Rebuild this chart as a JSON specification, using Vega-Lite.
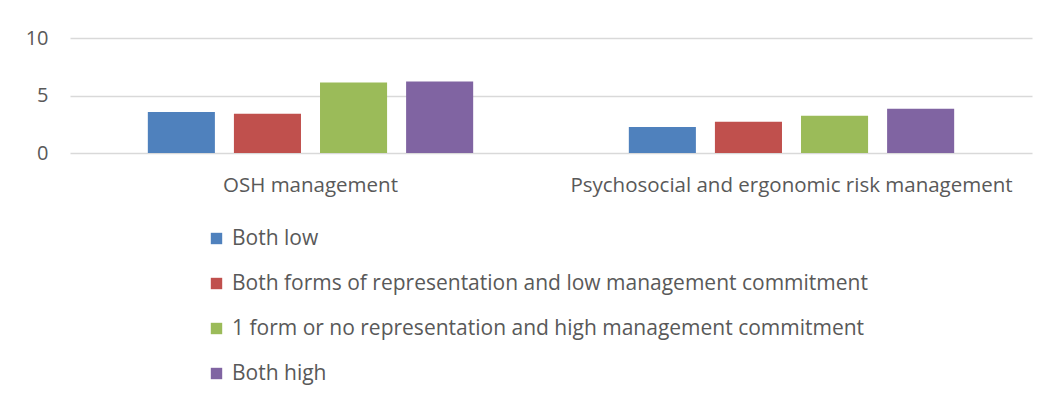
{
  "$schema": "https://vega.github.io/schema/vega-lite/v6.json",
  "width": 962,
  "height": 115,
  "autosize": "none",
  "padding": {"left": 70, "top": 38, "right": 20, "bottom": 250},
  "background": "white",
  "data": {
    "values": [
      {"category": "OSH management", "group": "Both low", "value": 3.56},
      {"category": "OSH management", "group": "Both forms of representation and low management commitment", "value": 3.41},
      {"category": "OSH management", "group": "1 form or no representation and high management commitment", "value": 6.12},
      {"category": "OSH management", "group": "Both high", "value": 6.21},
      {"category": "Psychosocial and ergonomic risk management", "group": "Both low", "value": 2.27},
      {"category": "Psychosocial and ergonomic risk management", "group": "Both forms of representation and low management commitment", "value": 2.71},
      {"category": "Psychosocial and ergonomic risk management", "group": "1 form or no representation and high management commitment", "value": 3.23},
      {"category": "Psychosocial and ergonomic risk management", "group": "Both high", "value": 3.85}
    ]
  },
  "mark": {"type": "bar"},
  "encoding": {
    "x": {
      "field": "category",
      "type": "nominal",
      "sort": null,
      "scale": {"paddingInner": 0, "paddingOuter": 0},
      "axis": {
        "title": null,
        "labelAngle": 0,
        "domain": false,
        "ticks": false,
        "labelPadding": 22,
        "labelLimit": 1000,
        "labelFont": "Open Sans",
        "labelFontSize": 20.5,
        "labelColor": "#595959"
      }
    },
    "xOffset": {
      "field": "group",
      "type": "nominal",
      "sort": ["Both low", "Both forms of representation and low management commitment", "1 form or no representation and high management commitment", "Both high"],
      "scale": {"paddingInner": 0.221, "paddingOuter": 0.904}
    },
    "y": {
      "field": "value",
      "type": "quantitative",
      "scale": {"domain": [0, 10]},
      "axis": {
        "title": null,
        "values": [0, 5, 10],
        "domain": false,
        "ticks": false,
        "labelPadding": 22,
        "labelFont": "Open Sans",
        "labelFontSize": 20,
        "labelColor": "#595959",
        "gridColor": "#d9d9d9",
        "gridWidth": 1.5
      }
    },
    "color": {
      "field": "group",
      "type": "nominal",
      "scale": {
        "domain": ["Both low", "Both forms of representation and low management commitment", "1 form or no representation and high management commitment", "Both high"],
        "range": ["#4f81bd", "#c0504d", "#9bbb59", "#8064a2"]
      },
      "legend": {
        "title": null,
        "orient": "none",
        "legendX": 136,
        "legendY": 190,
        "direction": "vertical",
        "symbolType": "square",
        "symbolSize": 130,
        "symbolStrokeWidth": 0,
        "labelFont": "Open Sans",
        "labelFontSize": 21,
        "labelColor": "#595959",
        "labelLimit": 1000,
        "labelOffset": 5,
        "rowPadding": 23
      }
    }
  },
  "config": {"view": {"stroke": null}}
}
